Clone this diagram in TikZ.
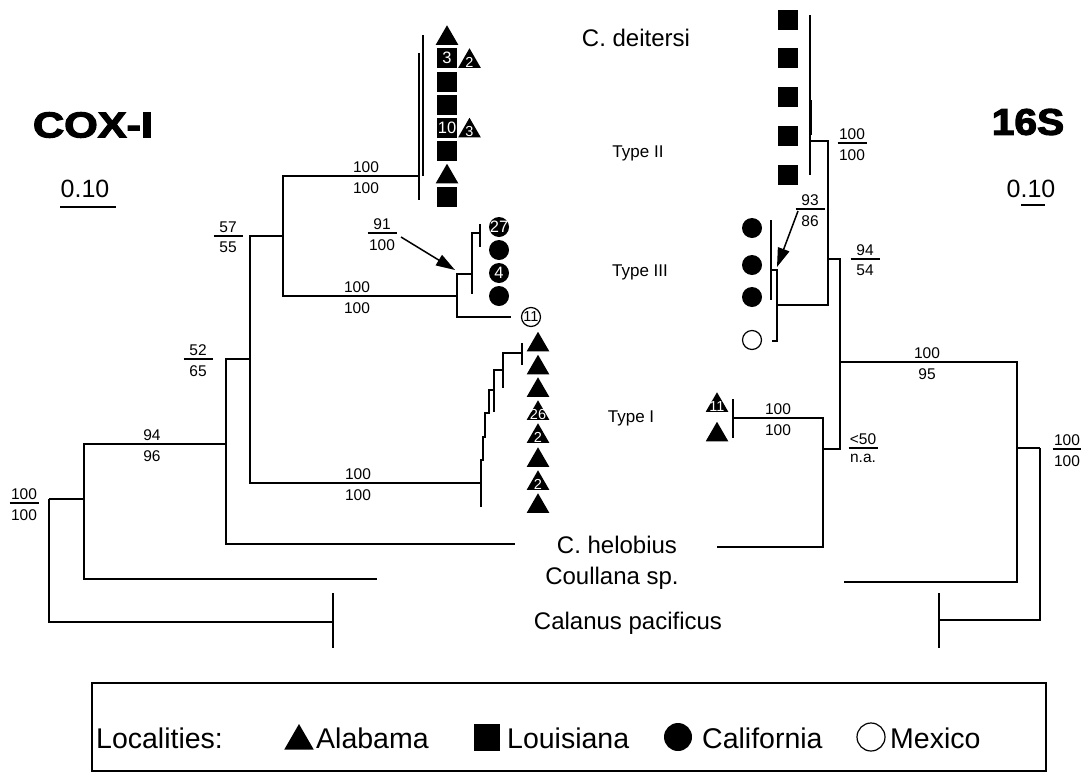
\documentclass[tikz,border=0pt]{standalone}
\usepackage{fontspec}
\setmainfont{Liberation Sans}
\newfontfamily\heavyfont[FakeBold=3]{Liberation Sans Bold}
\usetikzlibrary{arrows.meta,shapes.geometric,calc,positioning}

\newcommand{\frc}[5]{%
  \coordinate (#1) at (#2,#3);
  \draw[fl] ($(#1)+(-14.5,0)$) -- ($(#1)+(14.5,0)$);
  \node[bs,above=2.5pt of #1] (#1t) {#4};
  \node[bs,below=5pt of #1] (#1b) {#5};}
\newcommand{\blab}[5]{%
  \coordinate (#1) at (#2,#3);
  \node[bs,above=2.5pt of #1] (#1t) {#4};
  \node[bs,below=5pt of #1] (#1b) {#5};}

\begin{document}
\begin{tikzpicture}[x=1pt,y=-1pt,
  br/.style={line width=1.5pt},
  fl/.style={line width=1.4pt},
  arr/.style={line width=1.5pt,-{Triangle[length=19pt,width=12pt]}},
  bs/.style={font=\fontsize{15.5}{16}\selectfont,inner sep=1pt},
  taxon/.style={font=\fontsize{24}{26}\selectfont,inner sep=0pt},
  typ/.style={font=\fontsize{17}{18}\selectfont,inner sep=0pt},
  leg/.style={font=\fontsize{28.5}{30}\selectfont,inner sep=0pt,anchor=west},
  num/.style={font=\fontsize{16.5}{17}\selectfont,inner sep=0pt,text=white},
  tnum/.style={font=\fontsize{14.5}{15}\selectfont,inner sep=0pt,text=white},
  tri/.style={regular polygon,regular polygon sides=3,fill=black,minimum size=26pt,inner sep=0pt},
  sq/.style={rectangle,fill=black,minimum size=20pt,inner sep=0pt},
  dot/.style={circle,fill=black,minimum size=20pt,inner sep=0pt},
  odot/.style={circle,draw=black,line width=1.2pt,fill=white,minimum size=19pt,inner sep=0pt}
]
\fill[white] (0,0) rectangle (1081,774);
\useasboundingbox (0,0) rectangle (1081,774);

% ---------- titles and scale bars
\node[font=\heavyfont\fontsize{36}{38}\selectfont,inner sep=0pt] (cox) at (93,125) {\scalebox{1.2}[1]{COX-I}};
\node[font=\heavyfont\fontsize{37}{38}\selectfont,inner sep=0pt] (s16) at (1028,122) {\scalebox{1.1}[1]{16S}};
\node[font=\fontsize{25}{26}\selectfont,inner sep=0pt] (scl) at (85,189) {0.10};
\coordinate (sclA) at (60,207); \coordinate (sclB) at (116,207);
\draw[fl] (sclA) -- (sclB);
\node[font=\fontsize{25}{26}\selectfont,inner sep=0pt] (scr) at (1031,189) {0.10};
\coordinate (scrA) at (1021,205); \coordinate (scrB) at (1045,205);
\draw[fl] (scrA) -- (scrB);

% ---------- taxon labels
\node[taxon] (deit) at (636,38) {C. deitersi};
\node[typ] (t2) at (638,153) {Type II};
\node[typ] (t3) at (640,272) {Type III};
\node[typ] (t1) at (631,418) {Type I};
\node[taxon] (helo) at (617,545) {C. helobius};
\node[taxon] (coul) at (612,578) {Coullana sp.};
\node[taxon] (cala) at (628,623) {Calanus pacificus};

% ---------- left tree (COX-I)
\coordinate (L0) at (49,499);
\coordinate (L84) at (84,499);
\coordinate (L226) at (226,444);
\coordinate (L250) at (250,359);
\coordinate (L283) at (283,236);
\coordinate (L419) at (419,176);
\coordinate (L457) at (457,296);
\coordinate (L472) at (472,274);
\coordinate (L480) at (480,233);
\coordinate (L481) at (481,483);
\coordinate (Lmex) at (511,317);
\coordinate (Lcal) at (333,622);
\coordinate (Lcou) at (377,579);
\coordinate (Lhel) at (515,544);
\draw[br] (L0) |- (L84);
\draw[br] (L0) |- (Lcal);
\draw[br] (L84) |- (L226);
\draw[br] (L84) |- (Lcou);
\draw[br] (L226) |- (L250);
\draw[br] (L226) |- (Lhel);
\draw[br] (L250) |- (L283);
\draw[br] (L250) |- (L481);
\draw[br] (L283) |- (L419);
\draw[br] (L283) |- (L457);
\draw[br] (L457) |- (L472);
\draw[br] (L457) |- (Lmex);
\draw[br] (L472) |- (L480);
\draw[br] (L472) -- ++(0,20);
\draw[br] ($(L480)+(0,-9)$) -- ($(L480)+(0,14)$);
\draw[br] ($(Lcal)+(0,-29)$) -- ($(Lcal)+(0,26)$);
% type II verticals
\draw[br] (419,53) -- (419,200);
\draw[br] (423,35) -- (423,176);
% type I ladder
\draw[br] (481,507) -- (481,460) -- (483,460) -- (483,437) -- (485,437) -- (485,413) -- (489,413) -- (489,390) -- (494,390) -- (494,370) -- (503,370) -- (503,353) -- (522,353);
\draw[br] (494,370) -- (494,412);
\draw[br] (503,353) -- (503,388);
\draw[br] (522,343) -- (522,365);

% left bootstrap labels
\frc{bl1}{24}{503}{100}{100}
\blab{bl2}{152}{444}{94}{96}
\frc{bl3}{198}{359}{52}{65}
\frc{bl4}{228}{236}{57}{55}
\blab{bl5}{366}{176}{100}{100}
\blab{bl6}{357}{296}{100}{100}
\frc{bl7}{382}{233}{91}{100}
\blab{bl8}{358}{483}{100}{100}
\coordinate (a1s) at (401,237); \coordinate (a1e) at (455,270);
\draw[arr] (a1s) -- (a1e);

% left type II symbols
\node[tri] (ls1) at (447,38.25) {};
\node[sq] (ls2) at (447,58) {}; \node[num] (ls2n) at (ls2) {3};
\node[tri] (ls2b) at (469.5,61.25) {}; \node[tnum] (ls2bn) at ($(ls2b)+(0,1)$) {2};
\node[sq] (ls3) at (447,81.5) {};
\node[sq] (ls4) at (447,104.5) {};
\node[sq] (ls5) at (447,127.5) {}; \node[num] (ls5n) at (ls5) {10};
\node[tri] (ls5b) at (469.5,130.75) {}; \node[tnum] (ls5bn) at ($(ls5b)+(0,1)$) {3};
\node[sq] (ls6) at (447,150.5) {};
\node[tri] (ls7) at (447,176.75) {};
\node[sq] (ls8) at (447,197) {};
% left type III symbols
\node[dot] (lc1) at (499,227) {}; \node[num] (lc1n) at (lc1) {27};
\node[dot] (lc2) at (499,250) {};
\node[dot] (lc3) at (499,273) {}; \node[num] (lc3n) at (lc3) {4};
\node[dot] (lc4) at (499,296) {};
\node[odot] (lc5) at (531,317) {}; \node[tnum,text=black] (lc5n) at (lc5) {11};
% left type I symbols
\node[tri] (lt1) at (538,344.75) {};
\node[tri] (lt2) at (538,367.75) {};
\node[tri] (lt3) at (538,390.25) {};
\node[tri] (lt4) at (538,413.25) {}; \node[tnum] (lt4n) at ($(lt4)+(0,1)$) {26};
\node[tri] (lt5) at (538,436.25) {}; \node[tnum] (lt5n) at ($(lt5)+(0,1)$) {2};
\node[tri] (lt6) at (538,460.25) {};
\node[tri] (lt7) at (538,483.25) {}; \node[tnum] (lt7n) at ($(lt7)+(0,1)$) {2};
\node[tri] (lt8) at (538,506.25) {};

% ---------- right tree (16S)
\coordinate (R1040) at (1040,448);
\coordinate (Rcal) at (939,620);
\coordinate (R1017) at (1017,448);
\coordinate (Rcou) at (844,582);
\coordinate (R840) at (840,362);
\coordinate (R828) at (828,259);
\coordinate (R823) at (823,449);
\coordinate (R810) at (810,141);
\coordinate (R777) at (777,305);
\coordinate (R771) at (771,270);
\coordinate (Rmex) at (772,341);
\coordinate (R733) at (733,418);
\coordinate (Rhel) at (717,547);
\draw[br] (R1040) |- (R1017);
\draw[br] (R1040) |- (Rcal);
\draw[br] (R1017) |- (R840);
\draw[br] (R1017) |- (Rcou);
\draw[br] (R840) |- (R828);
\draw[br] (R840) |- (R823);
\draw[br] (R828) |- (R810);
\draw[br] (R828) |- (R777);
\draw[br] (R777) |- (R771);
\draw[br] (R777) |- (Rmex);
\draw[br] (R823) |- (R733);
\draw[br] (R823) |- (Rhel);
\draw[br] (810,15) -- (810,175);
\draw[line width=2.6pt] (810.5,100) -- (810.5,135);
\draw[br] (771,220) -- (771,300);
\draw[br] ($(R733)+(0,-19)$) -- ($(R733)+(0,20)$);
\draw[br] ($(Rcal)+(0,-27)$) -- ($(Rcal)+(0,28)$);

% right bootstrap labels
\frc{br1}{852}{143}{100}{100}
\frc{br2}{810}{209}{93}{86}
\frc{br3}{865}{259}{94}{54}
\blab{br4}{927}{362}{100}{95}
\blab{br5}{778}{418}{100}{100}
\frc{br6}{863}{448}{<50}{n.a.}
\frc{br7}{1067}{449}{100}{100}
\coordinate (a2s) at (798,211); \coordinate (a2e) at (777,267);
\draw[arr] (a2s) -- (a2e);

% right symbols
\node[sq] (rs1) at (788,20) {};
\node[sq] (rs2) at (788,58) {};
\node[sq] (rs3) at (788,97) {};
\node[sq] (rs4) at (788,136) {};
\node[sq] (rs5) at (788,174.5) {};
\node[dot] (rc1) at (752,228) {};
\node[dot] (rc2) at (752,265) {};
\node[dot] (rc3) at (752,297) {};
\node[odot] (rc4) at (752,340) {};
\node[tri] (rt1) at (717,405.25) {}; \node[tnum] (rt1n) at ($(rt1)+(0,1)$) {11};
\node[tri] (rt2) at (717,434.75) {};

% ---------- legend
\coordinate (lgA) at (92,683); \coordinate (lgB) at (1046,771);
\draw[line width=1.5pt] (lgA) rectangle (lgB);
\node[leg] (loc) at (96,738) {Localities:};
\node[tri,minimum size=34pt] (lgt) at (299,741) {};
\node[leg] (lgal) at (316,738) {Alabama};
\node[sq,minimum width=26pt,minimum height=27pt] (lgs) at (487,737) {};
\node[leg] (lglo) at (507,738) {Louisiana};
\node[dot,minimum size=28pt] (lgc) at (678,737) {};
\node[leg] (lgca) at (702,738) {California};
\node[odot,minimum size=28pt] (lgo) at (871,737) {};
\node[leg] (lgme) at (890,738) {Mexico};
\end{tikzpicture}
\end{document}
